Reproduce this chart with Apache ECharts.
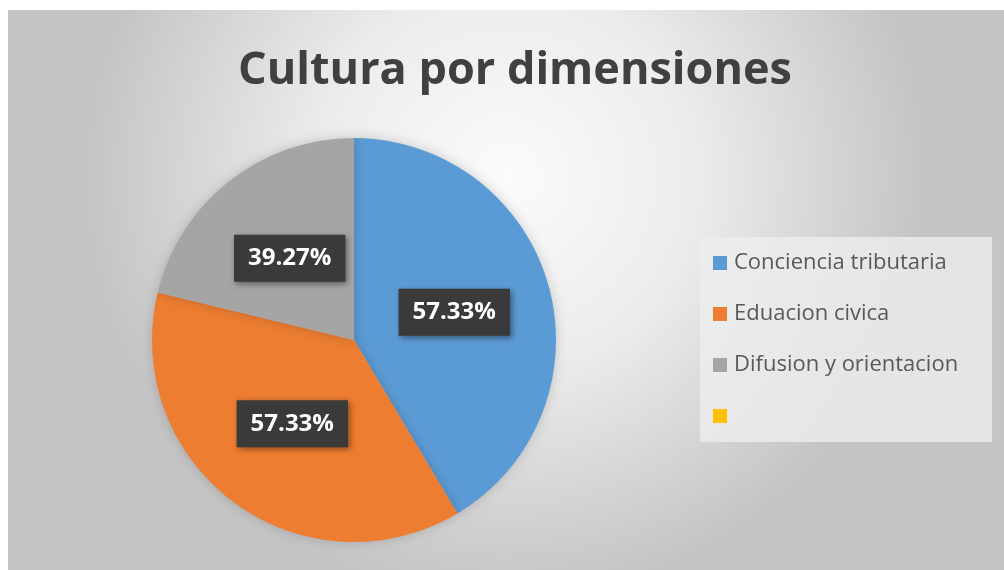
<!DOCTYPE html>
<html>
<head>
<meta charset="utf-8">
<script src="https://cdn.jsdelivr.net/npm/echarts@6/dist/echarts.min.js"></script>
<style>
  html, body { margin: 0; padding: 0; background: #ffffff; }
  #chart { width: 1004px; height: 570px; }
</style>
</head>
<body>
<div id="chart"></div>
<script>
// categories, slice shares and the printed labels
const categories = ['Conciencia tributaria', 'Eduacion civica', 'Difusion y orientacion', ' ']
const shares = [41.4, 37.3, 21.2, 0]
const labelTexts = ['57.33%', '57.33%', '39.27%', '']
const colors = ['#5b9bd5', '#ed7d31', '#a5a5a5', '#ffc000']

const chart = echarts.init(document.getElementById('chart'))

const pieData = categories.map((name, i) => ({
  name: name,
  value: shares[i],
  label: { show: labelTexts[i] !== '' }
}))

chart.setOption({
  animation: false,
  color: colors,
  graphic: [
    {
      type: 'rect',
      silent: true,
      z: -10,
      shape: { x: 8, y: 10, width: 996, height: 560 },
      style: {
        fill: new echarts.graphic.RadialGradient(0.5, 0.3, 0.75, [
          { offset: 0, color: '#fbfbfb' },
          { offset: 0.45, color: '#ececec' },
          { offset: 1, color: '#c4c4c4' }
        ])
      }
    }
  ],
  title: {
    text: 'Cultura por dimensiones',
    left: 510,
    textAlign: 'center',
    top: 44,
    textStyle: {
      fontFamily: 'Open Sans',
      fontWeight: 'bold',
      fontSize: 45,
      color: '#404040'
    }
  },
  legend: {
    orient: 'vertical',
    left: 700,
    top: 237,
    icon: 'rect',
    itemWidth: 14,
    itemHeight: 14,
    itemGap: 25,
    padding: [13, 34, 13, 13],
    backgroundColor: 'rgba(238,238,238,0.8)',
    data: categories,
    textStyle: {
      fontFamily: 'Open Sans',
      fontSize: 22,
      lineHeight: 26,
      color: '#595959',
      padding: [0, 0, 0, 2]
    }
  },
  series: [
    {
      type: 'pie',
      center: [354, 340],
      radius: [0, 202],
      startAngle: 90,
      clockwise: true,
      minAngle: 0,
      itemStyle: {
        borderWidth: 0,
        shadowBlur: 12,
        shadowColor: 'rgba(0,0,0,0.18)'
      },
      emphasis: { disabled: true },
      labelLine: { show: false },
      label: {
        position: 'inside',
        formatter: p => labelTexts[p.dataIndex],
        fontFamily: 'Open Sans',
        fontWeight: 'bold',
        fontSize: 24,
        lineHeight: 26,
        color: '#ffffff',
        backgroundColor: '#3a3a3a',
        padding: [11, 14, 10, 14],
        shadowBlur: 6,
        shadowColor: 'rgba(0,0,0,0.45)',
        shadowOffsetX: 2,
        shadowOffsetY: 2
      },
      data: pieData
    }
  ]
})
</script>
</body>
</html>
